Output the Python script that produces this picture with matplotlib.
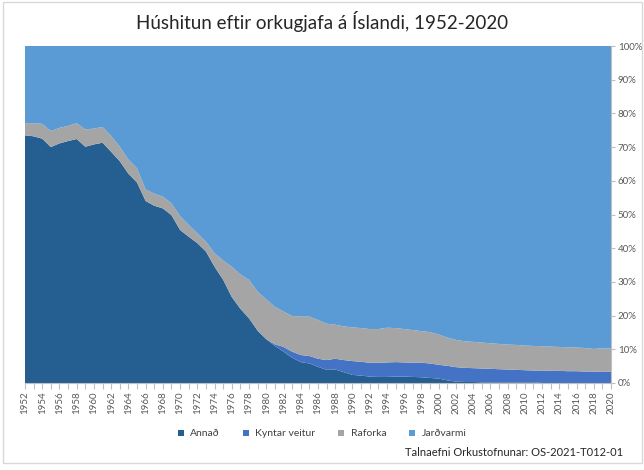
import numpy as np
import matplotlib.pyplot as plt
from matplotlib.patches import Rectangle
from matplotlib.ticker import MultipleLocator, FuncFormatter

plt.rcParams['font.family'] = ['Lato', 'DejaVu Sans']

# Ár
years = np.arange(1952, 2021)

# Efri brún "Annað" (%)
annad = [73.5, 73.2, 72.5, 70.0, 71.1, 71.8, 72.4, 70.1, 70.8, 71.3,
         68.6, 65.8, 62.1, 59.5, 54.0, 52.6, 51.8, 49.8, 45.4, 43.4,
         41.5, 39.0, 34.5, 30.6, 25.5, 22.0, 19.2, 15.5, 13.0, 11.0,
         9.3, 7.5, 6.2, 5.8, 4.8, 3.9, 4.0, 3.2, 2.4, 2.2,
         1.9, 1.8, 1.8, 1.9, 1.9, 1.8, 1.7, 1.5, 1.3, 0.8,
         0.4, 0.3, 0.3, 0.2, 0.2, 0.2, 0.2, 0.2, 0.2, 0.2,
         0.0, 0.0, 0.0, 0.0, 0.0, 0.0, 0.0, 0.0, 0.0]

# Efri brún "Kyntar veitur" (uppsafnað, %)
kyntar_top = [73.5, 73.2, 72.5, 70.0, 71.1, 71.8, 72.4, 70.1, 70.8, 71.3,
              68.6, 65.8, 62.1, 59.5, 54.0, 52.6, 51.8, 49.8, 45.4, 43.4,
              41.5, 39.0, 34.5, 30.6, 25.5, 22.0, 19.2, 15.5, 13.0, 11.5,
              10.7, 9.3, 8.3, 8.0, 7.2, 6.8, 7.2, 6.8, 6.5, 6.3,
              6.0, 6.0, 6.1, 6.2, 6.1, 6.0, 6.0, 5.8, 5.4, 5.1,
              4.7, 4.5, 4.4, 4.3, 4.2, 4.1, 4.0, 3.9, 3.8, 3.7,
              3.7, 3.6, 3.6, 3.5, 3.5, 3.4, 3.4, 3.3, 3.3]

# Efri brún "Raforka" (uppsafnað, %)
raforka_top = [77.1, 77.1, 76.9, 74.8, 75.7, 76.3, 77.1, 75.2, 75.5, 76.0,
               73.3, 70.1, 66.3, 63.7, 57.4, 56.2, 55.3, 53.3, 49.5, 46.9,
               44.4, 41.9, 38.5, 36.3, 34.5, 32.2, 30.6, 27.1, 24.8, 22.6,
               21.2, 19.9, 19.7, 19.7, 18.7, 17.6, 17.3, 16.8, 16.5, 16.3,
               16.0, 16.0, 16.4, 16.3, 16.0, 15.7, 15.4, 15.1, 14.4, 13.5,
               12.8, 12.4, 12.2, 12.0, 11.8, 11.6, 11.4, 11.3, 11.1, 11.0,
               10.9, 10.8, 10.7, 10.6, 10.5, 10.4, 10.1, 10.3, 10.2]

annad = np.array(annad)
kyntar = np.array(kyntar_top) - annad
raforka = np.array(raforka_top) - np.array(kyntar_top)
jardvarmi = 100 - np.array(raforka_top)

labels = ['Annað', 'Kyntar veitur', 'Raforka', 'Jarðvarmi']
colors = ['#255E91', '#4472C4', '#A5A5A5', '#5B9BD5']

fig = plt.figure(figsize=(6.44, 4.70), dpi=100)
ax = fig.add_axes([25 / 644, 87 / 470, 586 / 644, 337 / 470])

ax.stackplot(years, annad, kyntar, raforka, jardvarmi,
             colors=colors, labels=labels, linewidth=0)

ax.set_xlim(1952, 2020)
ax.set_ylim(0, 100)

# y-ás hægra megin
ax.yaxis.tick_right()
ax.yaxis.set_major_locator(MultipleLocator(10))
ax.yaxis.set_major_formatter(FuncFormatter(lambda v, p: f'{int(v)}%'))
ax.tick_params(axis='y', colors='#BFBFBF', length=3, width=0.8,
               labelcolor='#595959', labelsize=7, pad=2)

# x-ás: merki hvert ár, texti annað hvert ár
ax.set_xticks(years[::2])
ax.set_xticks(years, minor=True)
ax.set_xticklabels([str(y) for y in years[::2]], rotation=90)
ax.tick_params(axis='x', which='both', colors='#BFBFBF', length=4,
               width=0.8, labelcolor='#595959', labelsize=7, pad=2)

for s in ['top', 'left']:
    ax.spines[s].set_visible(False)
ax.spines['bottom'].set_color('#BFBFBF')
ax.spines['right'].set_color('#BFBFBF')

fig.text(0.5, 1 - 21 / 470, 'Húshitun eftir orkugjafa á Íslandi, 1952-2020',
         ha='center', va='center', fontsize=13.5, color='#262626')

fig.legend(loc='center', bbox_to_anchor=(0.5, 1 - 434 / 470), ncol=4,
           frameon=False, fontsize=7.5, handlelength=0.6, handleheight=0.6,
           columnspacing=2.2, handletextpad=0.6, labelcolor='#404040')

fig.text(623 / 644, 1 - 452 / 470, 'Talnaefni Orkustofnunar: OS-2021-T012-01',
         ha='right', va='center', fontsize=8, color='#262626')

fig.patches.append(Rectangle((3 / 644, 7 / 470), 639 / 644, 461 / 470,
                             transform=fig.transFigure, fill=False,
                             edgecolor='#D9D9D9', linewidth=1))

fig.savefig('out.png', dpi=100)
